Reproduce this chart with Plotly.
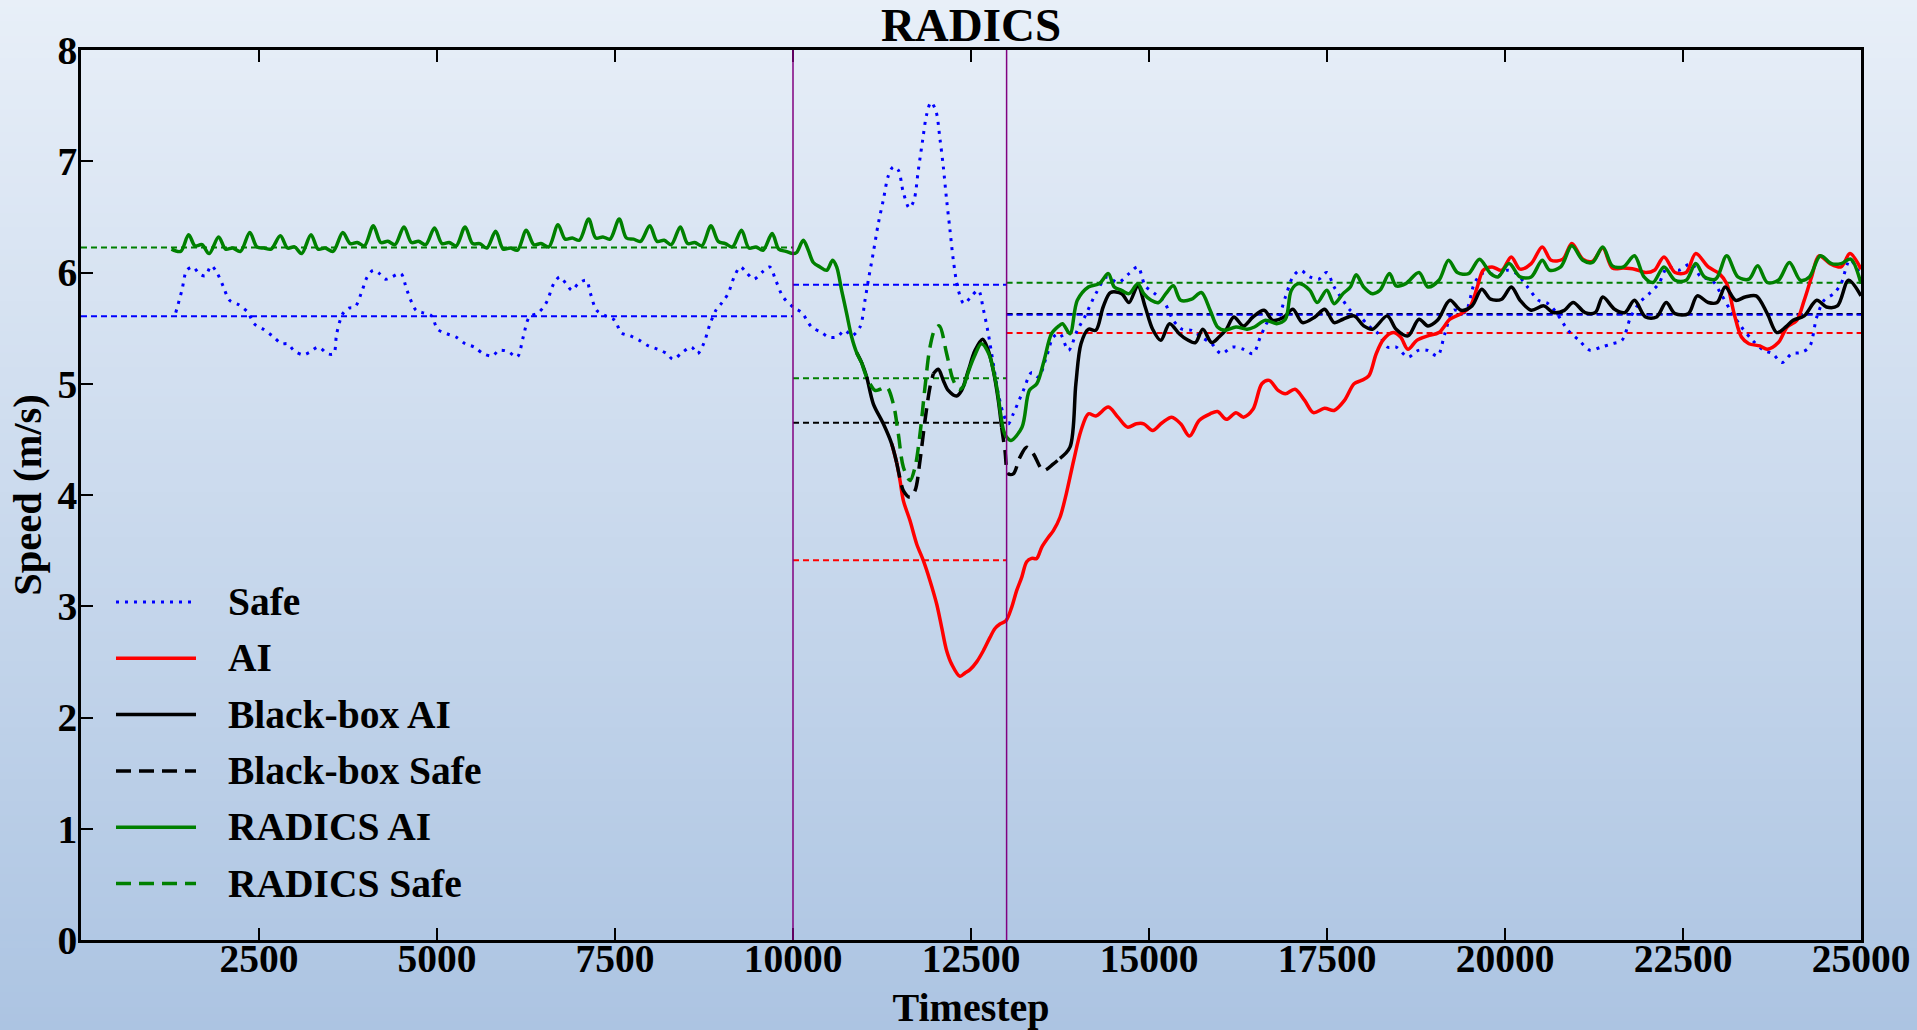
import plotly.graph_objects as go

# ---------------- data ----------------
safe = [(1331,5.64),(1417,5.84),(1486,6.02),(1572,6.05),(1658,5.99),(1744,5.97),(1830,6.06),(1916,5.99),(2001,5.87),(2087,5.75),(2216,5.71),(2345,5.64),(2431,5.54),(2560,5.49),(2689,5.43),(2818,5.36),(2904,5.36),(2989,5.30),(3118,5.26),(3204,5.28),(3333,5.33),(3462,5.27),(3548,5.27),(3591,5.45),(3677,5.63),(3762,5.68),(3848,5.69),(3934,5.81),(4020,5.96),(4106,6.02),(4192,5.99),(4278,5.94),(4364,5.96),(4492,5.99),(4578,5.84),(4707,5.66),(4793,5.64),(4922,5.61),(5008,5.49),(5137,5.45),(5266,5.42),(5395,5.36),(5523,5.33),(5652,5.27),(5781,5.25),(5867,5.30),(5996,5.29),(6125,5.24),(6211,5.42),(6297,5.60),(6426,5.64),(6537,5.73),(6640,5.90),(6726,5.96),(6812,5.90),(6898,5.84),(6984,5.90),(7095,5.93),(7156,5.81),(7242,5.66),(7370,5.61),(7499,5.57),(7585,5.46),(7714,5.43),(7843,5.39),(7972,5.34),(8100,5.31),(8229,5.27),(8315,5.22),(8444,5.28),(8573,5.33),(8659,5.27),(8745,5.36),(8831,5.53),(8917,5.66),(9003,5.73),(9088,5.81),(9174,5.96),(9260,6.05),(9346,6.00),(9449,5.94),(9561,6.00),(9672,6.05),(9758,5.93),(9861,5.78),(10000,5.69),(10122,5.64),(10262,5.51),(10403,5.46),(10496,5.42),(10613,5.42),(10730,5.48),(10824,5.43),(10941,5.51),(11011,5.75),(11058,5.93),(11128,6.18),(11198,6.44),(11268,6.65),(11339,6.87),(11409,6.95),(11479,6.92),(11549,6.72),(11634,6.58),(11699,6.65),(11760,6.92),(11821,7.19),(11877,7.42),(11938,7.53),(12008,7.45),(12064,7.20),(12111,6.95),(12158,6.65),(12205,6.38),(12252,6.11),(12322,5.84),(12402,5.72),(12510,5.79),(12603,5.84),(12673,5.67),(12743,5.45),(12813,5.18),(12884,4.91),(12954,4.73),(13024,4.64),(13094,4.73),(13235,4.94),(13352,5.10),(13446,5.06),(13563,5.25),(13657,5.42),(13750,5.45),(13869,5.30),(13993,5.48),(14097,5.60),(14253,5.81),(14408,5.96),(14564,5.91),(14719,5.99),(14843,6.05),(14947,5.88),(15082,5.81),(15217,5.73),(15341,5.57),(15465,5.49),(15600,5.48),(15735,5.42),(15880,5.36),(16015,5.27),(16170,5.33),(16326,5.31),(16460,5.27),(16564,5.42),(16688,5.57),(16792,5.57),(16916,5.78),(17020,5.96),(17124,6.02),(17258,5.96),(17383,5.94),(17497,6.00),(17600,5.87),(17725,5.75),(17828,5.66),(17953,5.61),(18087,5.52),(18222,5.45),(18347,5.33),(18471,5.33),(18637,5.24),(18782,5.30),(18917,5.30),(19051,5.25),(19155,5.45),(19279,5.66),(19435,5.64),(19569,5.90),(19673,5.99),(19798,5.99),(19901,5.97),(20026,6.02),(20160,5.99),(20316,5.87),(20471,5.75),(20606,5.72),(20730,5.63),(20886,5.48),(21041,5.39),(21196,5.30),(21352,5.33),(21508,5.36),(21642,5.39),(21766,5.60),(21891,5.73),(22026,5.81),(22160,5.90),(22285,6.05),(22440,6.02),(22616,6.08),(22751,5.96),(22907,5.93),(23031,5.81),(23166,5.66),(23321,5.51),(23477,5.39),(23632,5.30),(23757,5.27),(23891,5.19),(24026,5.27),(24150,5.28),(24275,5.33),(24379,5.60),(24482,5.75),(24617,5.81),(24720,5.90),(24845,6.11),(25000,5.97)]

ai = [(11386,4.46),(11456,4.29),(11503,4.13),(11550,3.95),(11643,3.77),(11737,3.56),(11831,3.41),(11924,3.23),(12018,3.02),(12088,2.81),(12158,2.60),(12228,2.48),(12345,2.37),(12416,2.40),(12486,2.43),(12580,2.50),(12673,2.60),(12767,2.72),(12837,2.80),(12907,2.84),(12991,2.87),(13071,2.99),(13141,3.14),(13212,3.26),(13282,3.40),(13352,3.43),(13423,3.43),(13493,3.53),(13587,3.62),(13657,3.68),(13750,3.80),(13838,4.01),(13942,4.31),(14045,4.58),(14149,4.73),(14253,4.71),(14429,4.79),(14564,4.70),(14698,4.61),(14823,4.64),(14926,4.64),(15051,4.58),(15185,4.65),(15320,4.70),(15445,4.64),(15569,4.53),(15704,4.67),(15859,4.73),(15963,4.75),(16087,4.68),(16222,4.74),(16326,4.70),(16460,4.77),(16585,5.00),(16688,5.03),(16813,4.94),(16916,4.91),(17051,4.95),(17186,4.85),(17310,4.74),(17466,4.78),(17600,4.76),(17745,4.85),(17880,5.00),(17984,5.03),(18087,5.07),(18191,5.27),(18295,5.40),(18430,5.46),(18533,5.42),(18637,5.31),(18761,5.39),(18917,5.43),(19072,5.46),(19227,5.58),(19383,5.63),(19507,5.69),(19611,5.87),(19694,6.02),(19818,6.05),(19953,6.02),(20088,6.14),(20212,6.03),(20368,6.08),(20523,6.23),(20648,6.11),(20813,6.12),(20938,6.26),(21093,6.12),(21228,6.10),(21373,6.22),(21508,6.04),(21663,6.04),(21818,6.03),(21974,6.00),(22098,6.02),(22233,6.14),(22388,6.00),(22544,6.00),(22679,6.17),(22855,6.05),(23010,5.99),(23114,5.90),(23218,5.63),(23321,5.42),(23425,5.36),(23580,5.34),(23684,5.31),(23839,5.37),(23963,5.51),(24098,5.57),(24202,5.75),(24306,5.96),(24410,6.15),(24565,6.08),(24720,6.05),(24845,6.17),(25000,6.03)]

bb_ai = [(10894,5.28),(10964,5.19),(11035,5.06),(11128,4.82),(11269,4.64),(11386,4.46),(11456,4.29), None,
         (11971,5.09),(12041,5.13),(12111,5.03),(12181,4.94),(12298,4.89),(12369,4.94),(12463,5.12),(12557,5.30),(12664,5.40),(12743,5.30),(12813,5.12),(12884,4.85),(12930,4.61), None,
         (13750,4.33),(13890,4.43),(13973,5.00),(14045,5.36),(14149,5.49),(14253,5.48),(14356,5.69),(14460,5.82),(14615,5.81),(14719,5.73),(14843,5.88),(14947,5.69),(15051,5.49),(15165,5.39),(15289,5.54),(15424,5.45),(15527,5.40),(15652,5.37),(15755,5.49),(15880,5.37),(15984,5.42),(16087,5.49),(16191,5.60),(16326,5.52),(16460,5.60),(16616,5.66),(16740,5.57),(16896,5.60),(17020,5.67),(17155,5.55),(17331,5.60),(17466,5.67),(17600,5.55),(17725,5.58),(17880,5.61),(18015,5.52),(18139,5.49),(18347,5.61),(18471,5.49),(18637,5.43),(18792,5.58),(18917,5.52),(19051,5.57),(19227,5.75),(19383,5.66),(19537,5.70),(19673,5.85),(19798,5.76),(19953,5.76),(20088,5.87),(20212,5.75),(20368,5.66),(20544,5.70),(20678,5.64),(20834,5.66),(20958,5.73),(21124,5.64),(21269,5.64),(21373,5.78),(21539,5.67),(21684,5.64),(21818,5.75),(21974,5.60),(22129,5.60),(22264,5.73),(22388,5.63),(22575,5.63),(22700,5.79),(22855,5.73),(22979,5.73),(23093,5.87),(23239,5.75),(23373,5.78),(23528,5.79),(23684,5.63),(23818,5.46),(23943,5.51),(24047,5.57),(24202,5.61),(24379,5.75),(24513,5.69),(24669,5.70),(24824,5.93),(25000,5.79)]

bb_safe = [(11456,4.29),(11503,4.15),(11550,4.04),(11643,3.98),(11714,4.04),(11784,4.31),(11854,4.67),(11924,4.97),(11971,5.09), None,
           (12930,4.61),(12977,4.40),(13024,4.19),(13094,4.19),(13188,4.34),(13282,4.43),(13376,4.37),(13516,4.22),(13657,4.28),(13750,4.33)]

radics_ai = [(1271,6.21),(1400,6.19),(1512,6.34),(1600,6.24),(1700,6.25),(1800,6.17),
             (1933,6.32),(2030,6.21),(2130,6.22),(2240,6.19),(2371,6.36),(2470,6.23),(2570,6.22),(2670,6.21),
             (2800,6.33),(2900,6.22),(3000,6.23),(3100,6.17),(3230,6.34),(3330,6.21),(3430,6.22),(3540,6.19),
             (3677,6.36),(3780,6.26),(3880,6.27),(3980,6.24),(4106,6.42),(4210,6.27),(4310,6.28),(4410,6.25),
             (4536,6.41),(4640,6.27),(4740,6.28),(4840,6.25),(4965,6.40),(5070,6.26),(5170,6.27),(5270,6.24),
             (5395,6.41),(5500,6.26),(5600,6.26),(5700,6.22),(5824,6.37),(5930,6.21),(6030,6.22),(6130,6.20),
             (6254,6.38),(6360,6.25),(6460,6.26),(6570,6.23),(6700,6.43),(6800,6.30),(6900,6.31),(7000,6.29),
             (7130,6.48),(7230,6.31),(7330,6.32),(7430,6.30),(7559,6.48),(7660,6.31),(7760,6.30),(7860,6.28),
             (7989,6.42),(8090,6.28),(8190,6.29),(8290,6.25),(8418,6.41),(8520,6.26),(8620,6.27),(8720,6.24),
             (8848,6.42),(8950,6.28),(9050,6.26),(9150,6.23),(9277,6.38),(9380,6.22),(9480,6.23),(9580,6.20),
             (9707,6.35),(9800,6.21),(9900,6.19),(10000,6.17),(10051,6.18),(10145,6.29),(10215,6.20),(10286,6.09),
             (10379,6.05),(10473,6.02),(10557,6.11),(10613,6.05),(10683,5.84),(10754,5.63),(10824,5.42),(10894,5.28),(10964,5.19), None,
             (12400,4.98),(12470,5.12),(12543,5.24),(12646,5.36),(12750,5.27),(12853,5.00),(12957,4.58),(13000,4.52),(13061,4.49),
             (13216,4.61),(13320,4.94),(13424,5.00),(13527,5.21),(13631,5.45),(13735,5.52),(13786,5.54),(13890,5.45),(13993,5.75),
             (14149,5.87),(14304,5.90),(14429,5.99),(14512,5.87),(14615,5.84),(14719,5.81),(14843,5.90),(14926,5.81),(15030,5.75),
             (15134,5.73),(15237,5.81),(15341,5.88),(15445,5.75),(15600,5.76),(15735,5.82),(15859,5.66),(15963,5.51),(16066,5.48),
             (16222,5.51),(16377,5.49),(16481,5.51),(16636,5.57),(16792,5.54),(16916,5.58),(16999,5.84),(17103,5.90),(17258,5.84),
             (17362,5.73),(17497,5.84),(17600,5.72),(17725,5.81),(17828,5.87),(17911,5.98),(18015,5.87),(18139,5.81),(18243,5.84),
             (18378,5.99),(18471,5.88),(18606,5.90),(18792,6.00),(18917,5.87),(19072,5.93),(19207,6.11),(19331,6.00),(19487,5.99),
             (19642,6.12),(19798,5.99),(19901,5.96),(20057,6.08),(20212,5.96),(20368,5.96),(20523,6.11),(20627,6.02),(20782,6.05),
             (20938,6.24),(21093,6.11),(21228,6.09),(21373,6.23),(21508,6.06),(21663,6.05),(21818,6.15),(21953,5.96),(22077,5.91),
             (22233,6.05),(22388,5.93),(22544,5.93),(22679,6.08),(22803,5.96),(22959,5.94),(23114,6.15),(23270,5.96),(23425,5.94),
             (23549,6.06),(23684,5.91),(23839,5.93),(23995,6.09),(24150,5.93),(24275,5.96),(24430,6.15),(24586,6.08),(24720,6.08),
             (24855,6.12),(25000,5.90)]

radics_safe = [(10964,5.19),(11035,5.06),(11152,4.94),(11222,4.95),(11316,4.97),(11409,4.82),(11479,4.55),(11550,4.25),(11643,4.13),
               (11714,4.25),(11784,4.55),(11854,4.97),(11924,5.33),(11994,5.49),(12055,5.52),(12158,5.27),(12252,5.03),(12335,4.95),(12400,4.98)]

# phase boundaries and per-phase means
switch_times = [10000, 13000]
phase_bounds = [(0, 10000), (10000, 13000), (13000, 25000)]
mean_safe = [5.607, 5.889, 5.62]
mean_ai = [None, 3.414, 5.457]
mean_bb = [None, 4.65, 5.628]
mean_radics = [6.225, 5.05, 5.907]

x_ticks = [2500, 5000, 7500, 10000, 12500, 15000, 17500, 20000, 22500, 25000]
y_ticks = [0, 1, 2, 3, 4, 5, 6, 7, 8]

# ---------------- figure ----------------
W, H = 1917, 1030
ML, MR, MT, MB = 81, 56, 50, 90
PW, PH = W - ML - MR, H - MT - MB
FONT = "Liberation Serif, Times New Roman, serif"

BLUE, RED, BLACK, GREEN, PURPLE = "#0000ff", "#ff0000", "#000000", "#008000", "#800080"
DOT = "3px,6px"
DASH = "15px,8px"
MEANDASH = "6px,4px"


def split(pairs):
    xs, ys = [], []
    for p in pairs:
        if p is None:
            xs.append(None); ys.append(None)
        else:
            xs.append(p[0]); ys.append(p[1])
    return xs, ys


fig = go.Figure()

# mean lines (drawn first, beneath the curves)
for means, col in [(mean_ai, RED), (mean_bb, BLACK), (mean_safe, BLUE), (mean_radics, GREEN)]:
    for (a, b), m in zip(phase_bounds, means):
        if m is None:
            continue
        fig.add_trace(go.Scatter(x=[a, b], y=[m, m], mode="lines", showlegend=False, hoverinfo="skip",
                                 line=dict(color=col, width=2, dash=MEANDASH)))

series = [
    ("Safe", safe, BLUE, DOT, 3),
    ("AI", ai, RED, "solid", 3.5),
    ("Black-box AI", bb_ai, BLACK, "solid", 3.5),
    ("Black-box Safe", bb_safe, BLACK, DASH, 3.5),
    ("RADICS AI", radics_ai, GREEN, "solid", 3.5),
    ("RADICS Safe", radics_safe, GREEN, DASH, 3.5),
]
for name, pairs, col, dash, w in series:
    xs, ys = split(pairs)
    fig.add_trace(go.Scatter(x=xs, y=ys, mode="lines", name=name, showlegend=False, connectgaps=False,
                             line=dict(color=col, width=w, dash=dash, shape="spline", smoothing=0.9)))

shapes = []
# background vertical gradient over the whole page
top_rgb = (232, 239, 248)
bot_rgb = (172, 196, 226)
NB = 140
y_lo = -MB / PH
y_hi = 1 + MT / PH
for i in range(NB):
    f = (i + 0.5) / NB
    c = tuple(round(top_rgb[k] + (bot_rgb[k] - top_rgb[k]) * f) for k in range(3))
    ya = y_hi - (y_hi - y_lo) * i / NB
    yb = y_hi - (y_hi - y_lo) * (i + 1) / NB
    shapes.append(dict(type="rect", xref="paper", yref="paper", x0=-ML / PW - 0.01, x1=1 + MR / PW + 0.01,
                       y0=yb - 0.001, y1=ya + 0.001, fillcolor="rgb(%d,%d,%d)" % c,
                       line=dict(width=0), layer="below"))

# phase switch markers
for t in switch_times:
    shapes.append(dict(type="line", xref="x", yref="paper", x0=t, x1=t, y0=0, y1=1,
                       line=dict(color=PURPLE, width=1.5), layer="above"))

# manual legend (long line samples like the reference)
annotations = []
leg_x0, leg_x1, leg_tx = 116, 196, 226
leg_y0, leg_dy = 602, 56.3
for i, (name, pairs, col, dash, w) in enumerate(series):
    yc = leg_y0 + i * leg_dy
    yp = (H - MB - yc) / PH
    shapes.append(dict(type="line", xref="paper", yref="paper",
                       x0=(leg_x0 - ML) / PW, x1=(leg_x1 - ML) / PW, y0=yp, y1=yp,
                       line=dict(color=col, width=w, dash=dash)))
    annotations.append(dict(xref="paper", yref="paper", x=(leg_tx - ML) / PW, y=yp, text=name,
                            showarrow=False, xanchor="left", yanchor="middle",
                            font=dict(family=FONT, size=39.5, color="black", weight="bold")))

axis_common = dict(showline=True, linecolor="black", linewidth=2.5, ticks="inside", ticklen=12,
                   tickwidth=2, tickcolor="black", showgrid=False, zeroline=False,
                   tickfont=dict(family=FONT, size=39.5, color="black", weight="bold"), automargin=False)

fig.update_layout(
    width=W, height=H,
    margin=dict(l=ML, r=MR, t=MT, b=MB),
    paper_bgcolor="rgb(190,207,232)",
    plot_bgcolor="rgba(0,0,0,0)",
    title=dict(text="RADICS", x=0.5, xref="paper", xanchor="center", y=1 - 25 / H, yref="container",
               yanchor="middle", font=dict(family=FONT, size=47, color="black", weight="bold")),
    xaxis=dict(range=[0, 25000], tickvals=x_ticks, ticktext=[str(v) for v in x_ticks], mirror="ticks",
               ticklabelstandoff=-18,
               title=dict(text="Timestep", standoff=24, font=dict(family=FONT, size=40, color="black", weight="bold")),
               **axis_common),
    yaxis=dict(range=[0, 8], tickvals=y_ticks, mirror=True, ticklabelstandoff=-7,
               title=dict(text="Speed (m/s)", standoff=4, font=dict(family=FONT, size=40.5, color="black", weight="bold")),
               **axis_common),
    shapes=shapes,
    annotations=annotations,
    showlegend=False,
)

fig.write_html("out.html", config={"displayModeBar": False},
               post_script="document.body.style.margin='0px';document.body.style.overflow='hidden';")
